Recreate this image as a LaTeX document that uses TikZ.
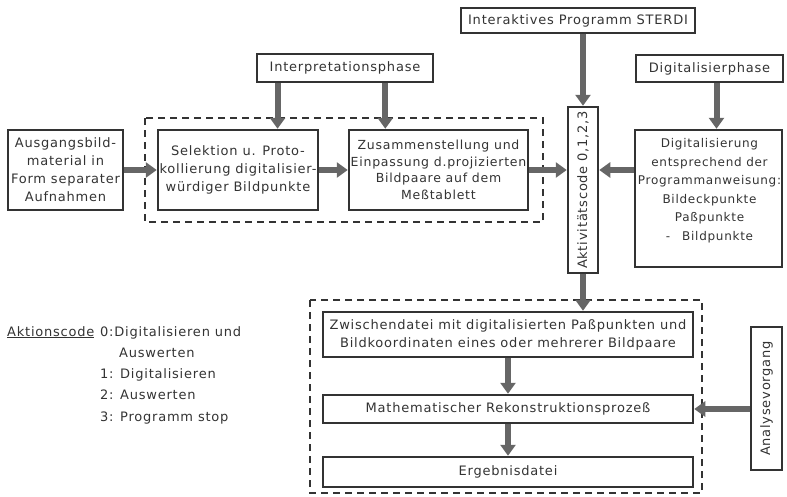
\documentclass[tikz,border=0pt]{standalone}
\usepackage{fontspec}
\setmainfont{DejaVu Sans}[LetterSpace=6]
\usetikzlibrary{arrows.meta,calc}
\definecolor{ink}{gray}{0.2}
\definecolor{shaft}{gray}{0.4}
\begin{document}
\begin{tikzpicture}[x=1pt,y=-1pt,
  lbl/.style={font=\fontsize{13}{18}\selectfont, text=ink},
  box/.style={lbl, draw=ink, line width=1.5pt, align=center, inner sep=1pt},
  frame/.style={draw=ink, line width=1.2pt, dash pattern=on 7pt off 5pt},
  fat/.style={draw=shaft, line width=6pt, -{Triangle[width=15pt,length=11pt]}, shorten >=0.5pt}
]
\useasboundingbox (0,0) rectangle (787,496);

% dashed groupings
\draw[frame] (145,118) rectangle (543,222);
\draw[frame] (310,300) rectangle (702,493);

% upper row
\node[box, minimum width=115pt, minimum height=80pt] (ausg) at (65.5,170)
  {Ausgangsbild-\\material in\\Form separater\\Aufnahmen};
\node[box, minimum width=176pt, minimum height=28pt] (interp) at (345,68)
  {Interpretationsphase};
\node[box, minimum width=160pt, minimum height=80pt] (sel) at (238,170)
  {Selektion u. Proto-\\kollierung digitalisier-\\würdiger Bildpunkte};
\node[box, minimum width=179pt, minimum height=80pt, font=\fontsize{12.5}{16.5}\selectfont] (zus) at (438.5,170)
  {Zusammenstellung und\\Einpassung d.projizierten\\Bildpaare auf dem\\Meßtablett};
\node[box, minimum width=234pt, minimum height=25pt] (sterdi) at (578,20.5)
  {Interaktives Programm STERDI};
\node[box, minimum width=30pt, minimum height=166pt] (akt) at (583,190) {};
\node[lbl, rotate=90] at (akt.center) {Aktivitätscode 0,1,2,3};
\node[box, minimum width=147pt, minimum height=27pt] (digph) at (709.5,68.5)
  {Digitalisierphase};
\node[box, minimum width=147pt, minimum height=137pt] (dig) at (708.5,198.5) {};
\node[lbl, align=center, font=\fontsize{12}{18.5}\selectfont] (digtxt) at ($(dig.center)+(1,-8)$)
  {Digitalisierung\\entsprechend der\\Programmanweisung:\\Bildeckpunkte\\Paßpunkte\\-\quad Bildpunkte};

% lower block
\node[box, minimum width=370pt, minimum height=45pt] (zw) at (508,334.5)
  {Zwischendatei mit digitalisierten Paßpunkten und\\Bildkoordinaten eines oder mehrerer Bildpaare};
\node[box, minimum width=370pt, minimum height=28pt] (math) at (508,409)
  {Mathematischer Rekonstruktionsprozeß};
\node[box, minimum width=370pt, minimum height=30pt] (erg) at (508,472)
  {Ergebnisdatei};
\node[box, minimum width=31pt, minimum height=143pt] (ana) at (766.5,398.5) {};
\node[lbl, rotate=90] at (ana.center) {Analysevorgang};

% legend
\node[lbl, anchor=base west, inner sep=0pt] (leg) at (7,336) {\underline{Aktionscode}};
\node[lbl, anchor=base west, inner sep=0pt] (c0) at (100,336) {0:Digitalisieren und};
\node[lbl, anchor=base west, inner sep=0pt] (c0b) at (119,357) {Auswerten};
\node[lbl, anchor=base west, inner sep=0pt] (c1) at (100,378) {1: Digitalisieren};
\node[lbl, anchor=base west, inner sep=0pt] (c2) at (100,399) {2: Auswerten};
\node[lbl, anchor=base west, inner sep=0pt] (c3) at (100,421) {3: Programm stop};

% flow arrows
\draw[fat] (ausg.east) -- (sel.west);
\draw[fat] (sel.east) -- (zus.west);
\draw[fat] ($(interp.south west)!0.12!(interp.south east)$) coordinate (i1)
  -- (i1 |- sel.north);
\draw[fat] ($(interp.south west)!0.727!(interp.south east)$) coordinate (i2)
  -- (i2 |- zus.north);
\draw[fat] (zus.east) -- (zus.east -| akt.west);
\draw[fat] (dig.west |- zus.east) -- (akt.east |- zus.east);
\draw[fat] (akt.north |- sterdi.south) -- (akt.north);
\draw[fat] ($(digph.south)+(7,0)$) coordinate (d1) -- (d1 |- dig.north);
\draw[fat] (akt.south) -- (akt.south |- zw.north);
\draw[fat] (zw.south) -- (math.north);
\draw[fat] (math.south) -- (erg.north);
\draw[fat] (ana.west |- math.east) -- (math.east);
\end{tikzpicture}
\end{document}
